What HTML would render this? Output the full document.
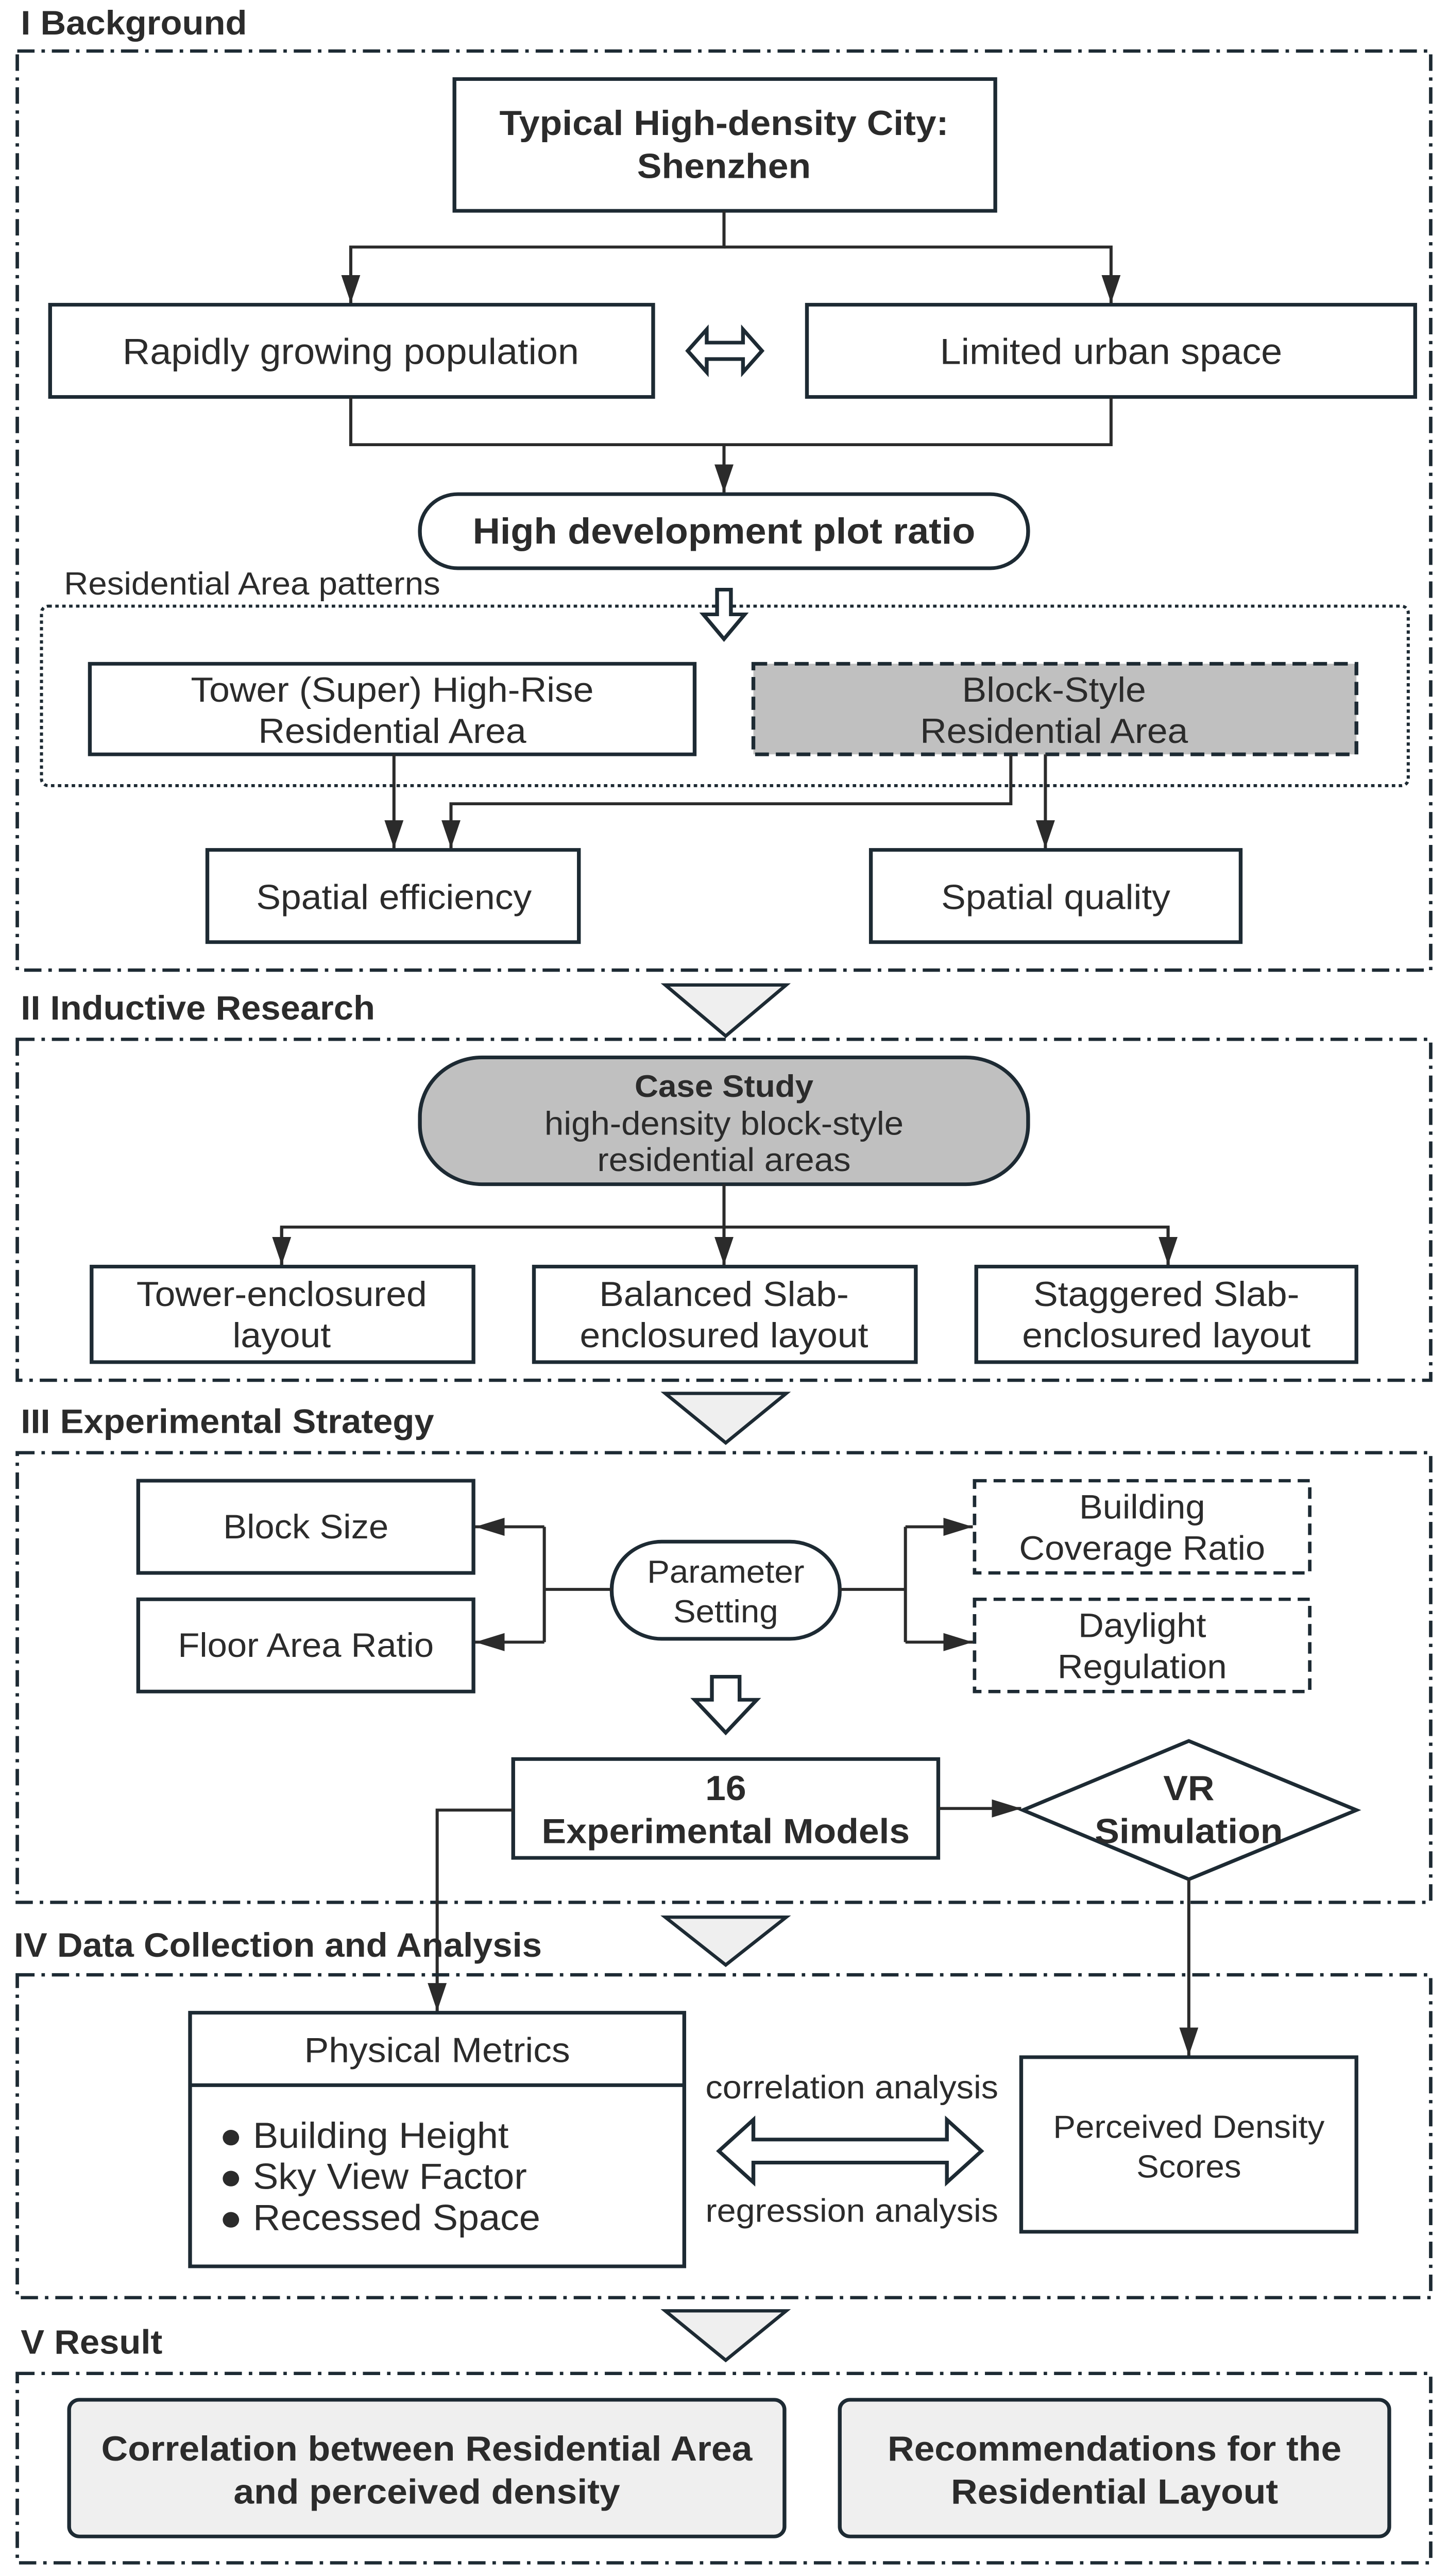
<!DOCTYPE html>
<html><head><meta charset="utf-8"><style>html,body{margin:0;padding:0;background:#fff;width:100%;height:100%;overflow:hidden}svg{display:block;width:100vw;height:100vh}</style></head>
<body>
<svg xmlns="http://www.w3.org/2000/svg" viewBox="0 0 838 1564" preserveAspectRatio="none" font-family="'Liberation Sans', sans-serif" fill="none">
<defs>
<marker id="a" markerUnits="userSpaceOnUse" markerWidth="18" markerHeight="12" refX="17" refY="6" orient="auto"><path d="M0,0.5 L17,6 L0,11.5 z" fill="#2b2b2b"/></marker>
</defs>
<style>
.f{stroke:#1d2a33;stroke-width:2;stroke-dasharray:10 4 2 4}
.b{stroke:#1d2a33;stroke-width:2.2;fill:#fff}
.l{stroke:#2b2b2b;stroke-width:1.8;fill:none}
text{fill:#2b2b2b;font-size:21.3px;text-anchor:middle}
.h{font-weight:bold;font-size:20.5px;text-anchor:start}
.bd{font-weight:bold;font-size:21.3px}
.tri{fill:#efefef;stroke:#1d2a33;stroke-width:2}
</style>

<!-- Section I -->
<text class="h" x="12" y="21">I Background</text>
<rect class="f" x="10" y="31" width="818" height="558"/>
<rect class="b" x="263" y="48" width="313" height="80"/>
<text class="bd" x="419" y="82">Typical High-density City:</text>
<text class="bd" x="419" y="108">Shenzhen</text>
<path class="l" d="M419,128 V150 H203 V184" marker-end="url(#a)"/>
<path class="l" d="M419,150 H643 V184" marker-end="url(#a)"/>
<rect class="b" x="29" y="185" width="349" height="56"/>
<text x="203" y="221" style="font-size:22px">Rapidly growing population</text>
<rect class="b" x="467" y="185" width="352" height="56"/>
<text x="643" y="221" style="font-size:22px">Limited urban space</text>
<path class="b" d="M398,213 L409,200 V208 H430 V200 L441,213 L430,226 V218 H409 V226 Z" stroke-width="1.8"/>
<path class="l" d="M203,241 V270 H643 V241"/>
<path class="l" d="M419,270 V299" marker-end="url(#a)"/>
<rect class="b" x="243" y="300" width="352" height="45" rx="22"/>
<text class="bd" x="419" y="330" style="font-size:22px">High development plot ratio</text>
<text x="37" y="361" style="text-anchor:start;font-size:19.5px">Residential Area patterns</text>
<rect x="24" y="368" width="791" height="109" rx="4" stroke="#1d2a33" stroke-width="1.8" stroke-dasharray="2 2"/>
<path class="b" d="M415,358 H423 V373 H431 L419,388 L407,373 H415 Z" stroke-width="1.8"/>
<rect class="b" x="52" y="403" width="350" height="55"/>
<text x="227" y="426">Tower (Super) High-Rise</text>
<text x="227" y="451">Residential Area</text>
<rect x="436" y="403" width="349" height="55" fill="#c0c0c0" stroke="#1d2a33" stroke-width="2.2" stroke-dasharray="8 4"/>
<text x="610" y="426">Block-Style</text>
<text x="610" y="451">Residential Area</text>
<path class="l" d="M228,458 V515" marker-end="url(#a)"/>
<path class="l" d="M585,458 V488 H261 V515" marker-end="url(#a)"/>
<path class="l" d="M605,458 V515" marker-end="url(#a)"/>
<rect class="b" x="120" y="516" width="215" height="56"/>
<text x="228" y="552">Spatial efficiency</text>
<rect class="b" x="504" y="516" width="214" height="56"/>
<text x="611" y="552">Spatial quality</text>
<path class="tri" d="M385,598 H455 L420,629 Z"/>

<!-- Section II -->
<text class="h" x="12" y="619">II Inductive Research</text>
<rect class="f" x="10" y="631" width="818" height="207"/>
<rect x="243" y="642" width="352" height="77" rx="36" fill="#c0c0c0" stroke="#1d2a33" stroke-width="2.2"/>
<text class="bd" x="419" y="666" style="font-size:19px">Case Study</text>
<text x="419" y="689" style="font-size:20px">high-density block-style</text>
<text x="419" y="711" style="font-size:20px">residential areas</text>
<path class="l" d="M419,719 V745 M163,768 V745 H676 V768"/>
<path class="l" d="M163,745 V768" marker-end="url(#a)"/>
<path class="l" d="M419,745 V768" marker-end="url(#a)"/>
<path class="l" d="M676,745 V768" marker-end="url(#a)"/>
<rect class="b" x="53" y="769" width="221" height="58"/>
<text x="163" y="793">Tower-enclosured</text>
<text x="163" y="818">layout</text>
<rect class="b" x="309" y="769" width="221" height="58"/>
<text x="419" y="793">Balanced Slab-</text>
<text x="419" y="818">enclosured layout</text>
<rect class="b" x="565" y="769" width="220" height="58"/>
<text x="675" y="793">Staggered Slab-</text>
<text x="675" y="818">enclosured layout</text>
<path class="tri" d="M385,846 H455 L420,876 Z"/>

<!-- Section III -->
<text class="h" x="12" y="870">III Experimental Strategy</text>
<rect class="f" x="10" y="882" width="818" height="273"/>
<rect class="b" x="80" y="899" width="194" height="56"/>
<text x="177" y="934" style="font-size:20.5px">Block Size</text>
<rect class="b" x="80" y="971" width="194" height="56"/>
<text x="177" y="1006" style="font-size:20.5px">Floor Area Ratio</text>
<rect class="b" x="354" y="936" width="132" height="59" rx="29"/>
<text x="420" y="961" style="font-size:19.5px">Parameter</text>
<text x="420" y="985" style="font-size:19.5px">Setting</text>
<rect x="564" y="899" width="194" height="56" fill="#fff" stroke="#1d2a33" stroke-width="2" stroke-dasharray="7 4"/>
<text x="661" y="922" style="font-size:20.5px">Building</text>
<text x="661" y="947" style="font-size:20.5px">Coverage Ratio</text>
<rect x="564" y="971" width="194" height="56" fill="#fff" stroke="#1d2a33" stroke-width="2" stroke-dasharray="7 4"/>
<text x="661" y="994" style="font-size:20.5px">Daylight</text>
<text x="661" y="1019" style="font-size:20.5px">Regulation</text>
<path class="l" d="M354,965 H315 M315,927 V997"/>
<path class="l" d="M315,927 H275" marker-end="url(#a)"/>
<path class="l" d="M315,997 H275" marker-end="url(#a)"/>
<path class="l" d="M486,965 H524 M524,927 V997"/>
<path class="l" d="M524,927 H563" marker-end="url(#a)"/>
<path class="l" d="M524,997 H563" marker-end="url(#a)"/>
<path class="b" d="M412,1018 H428 V1032 H438 L420,1052 L402,1032 H412 Z" stroke-width="1.8"/>
<rect class="b" x="297" y="1068" width="246" height="60"/>
<text class="bd" x="420" y="1093">16</text>
<text class="bd" x="420" y="1119">Experimental Models</text>
<path class="l" d="M543,1098 H591" marker-end="url(#a)"/>
<path class="b" d="M592,1099 L688,1057 L785,1099 L688,1141 Z"/>
<text class="bd" x="688" y="1093">VR</text>
<text class="bd" x="688" y="1119">Simulation</text>
<path class="l" d="M297,1099 H253 V1221" marker-end="url(#a)"/>
<path class="l" d="M688,1141 V1248" marker-end="url(#a)"/>
<path class="tri" d="M385,1164 H455 L420,1193 Z"/>

<!-- Section IV -->
<text class="h" x="8" y="1188">IV Data Collection and Analysis</text>
<rect class="f" x="10" y="1199" width="818" height="196"/>
<rect class="b" x="110" y="1222" width="286" height="154"/>
<line x1="110" y1="1266" x2="396" y2="1266" stroke="#1d2a33" stroke-width="2.2"/>
<text x="253" y="1252">Physical Metrics</text>
<text x="127" y="1304" style="text-anchor:start;font-size:22px">● Building Height</text>
<text x="127" y="1329" style="text-anchor:start;font-size:22px">● Sky View Factor</text>
<text x="127" y="1354" style="text-anchor:start;font-size:22px">● Recessed Space</text>
<rect class="b" x="591" y="1249" width="194" height="106"/>
<text x="688" y="1298" style="font-size:19.5px">Perceived Density</text>
<text x="688" y="1322" style="font-size:19.5px">Scores</text>
<path class="b" d="M416,1306 L436,1287 V1299 H548 V1287 L568,1306 L548,1325 V1313 H436 V1325 Z" stroke-width="1.8"/>
<text x="493" y="1274" style="font-size:19.8px">correlation analysis</text>
<text x="493" y="1349" style="font-size:19.8px">regression analysis</text>
<path class="tri" d="M385,1403 H455 L420,1433 Z"/>

<!-- Section V -->
<text class="h" x="12" y="1429">V Result</text>
<rect class="f" x="10" y="1441" width="818" height="115"/>
<rect x="40" y="1457" width="414" height="83" rx="6" fill="#efefef" stroke="#1d2a33" stroke-width="2.2"/>
<text class="bd" x="247" y="1494">Correlation between Residential Area</text>
<text class="bd" x="247" y="1520">and  perceived density</text>
<rect x="486" y="1457" width="318" height="83" rx="6" fill="#efefef" stroke="#1d2a33" stroke-width="2.2"/>
<text class="bd" x="645" y="1494">Recommendations for the</text>
<text class="bd" x="645" y="1520">Residential Layout</text>
</svg>
</body></html>
